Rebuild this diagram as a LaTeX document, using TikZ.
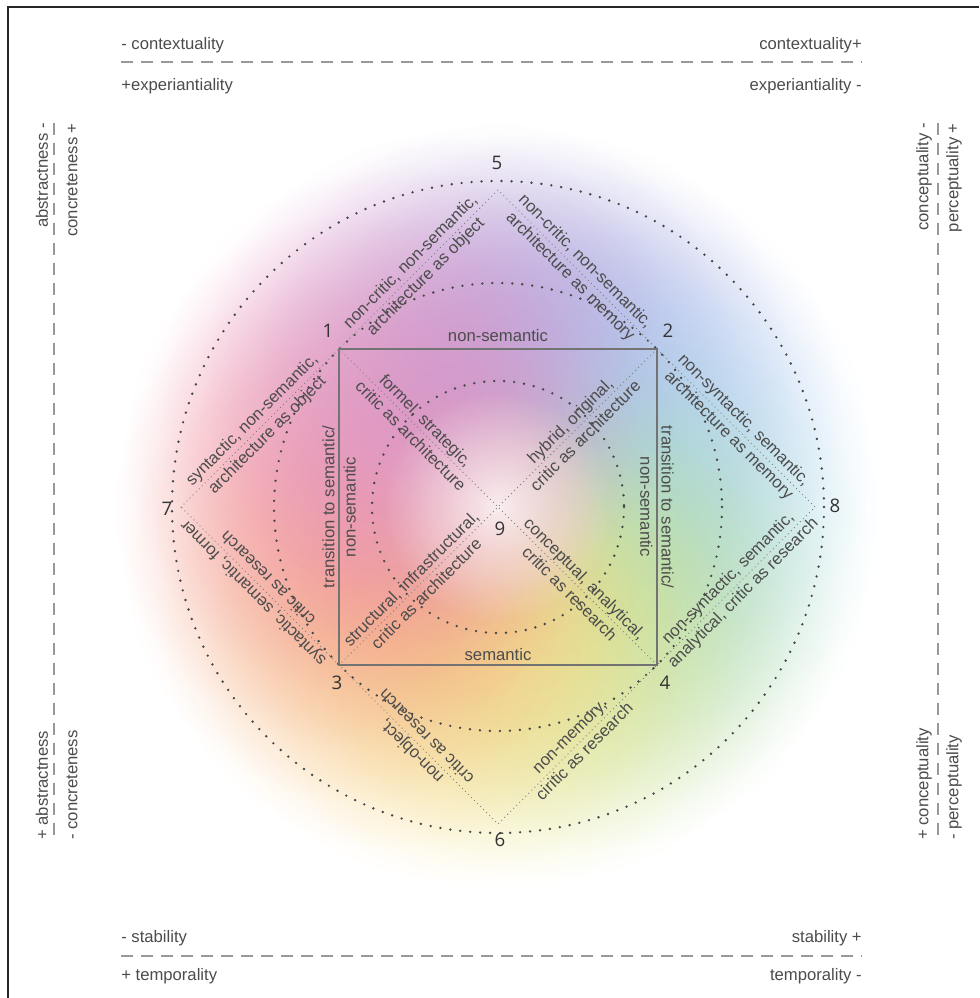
\documentclass[tikz,border=0pt]{standalone}
\usepackage{fontspec}
\setmainfont{Liberation Sans}
\newfontfamily\digitfont{Open Sans}
\usepackage{tikz}
\usetikzlibrary{fadings}
\usepackage{xcolor}

\definecolor{blobpurple}{HTML}{A597D6}
\definecolor{blobblue}{HTML}{AAB6EA}
\definecolor{blobcyan}{HTML}{AEE0F6}
\definecolor{blobgreen}{HTML}{A9D897}
\definecolor{blobyellow}{HTML}{F8EF8E}
\definecolor{bloborange}{HTML}{F9C487}
\definecolor{blobred}{HTML}{F3928A}
\definecolor{blobpink}{HTML}{F098CA}
\definecolor{labelgray}{HTML}{4C4C4C}

\tikzfading[name=fuzzyblob, inner color=transparent!0, outer color=transparent!100]

\tikzset{
  axislabel/.style={text=labelgray, font=\fontsize{12.5}{14}\selectfont, inner sep=0pt},
  axisline/.style={draw=black!40, line width=1pt, dash pattern=on 9pt off 6pt},
  ringline/.style={draw=black!72, line width=2pt, line cap=round, dash pattern=on 0pt off 7.5pt},
  edgeline/.style={draw=black!50, line width=1pt, line cap=round, dash pattern=on 0pt off 3.2pt},
  edgelabel/.style={text=labelgray, font=\fontsize{12.5}{16}\selectfont, align=center, inner sep=0pt},
  sideline/.style={draw=black!55, line width=1.1pt},
  numlabel/.style={text=black!80, font=\digitfont\fontsize{14}{16}\selectfont, inner sep=0pt},
}

\begin{document}
\begin{tikzpicture}[x=0.75pt,y=-0.75pt]
\useasboundingbox (0,0) rectangle (979,998);

\coordinate (p9) at (498,507);
\coordinate (p1) at (339,349);
\coordinate (p2) at (657,349);
\coordinate (p3) at (339,665);
\coordinate (p4) at (657,665);
\coordinate (p5) at (498,190);
\coordinate (p6) at (498,824);
\coordinate (p7) at (181,507);
\coordinate (p8) at (815,507);

\foreach \ang/\col in {270/blobpurple,292.5/blobpurple!50!blobblue,315/blobblue,337.5/blobblue!50!blobcyan,
  0/blobcyan,22.5/blobcyan!50!blobgreen,45/blobgreen,67.5/blobgreen!50!blobyellow,
  90/blobyellow,112.5/blobyellow!50!bloborange,135/bloborange,157.5/bloborange!50!blobred,
  180/blobred,202.5/blobred!50!blobpink,225/blobpink,247.5/blobpink!50!blobpurple}
  \fill[\col, path fading=fuzzyblob, fill opacity=.6] (p9) ++(\ang:145) circle (240);
\fill[white, path fading=fuzzyblob, fill opacity=.8] (p9) circle (115);

\draw[ringline] (p9) circle (326);
\draw[ringline] (p9) circle (224);
\draw[ringline] (p9) circle (126);

\draw[edgeline] (p7) -- node[edgelabel, rotate=45] {syntactic, non-semantic,\\architecture as object} (p1)
  -- node[edgelabel, rotate=45] {non-critic, non-semantic,\\architecture as object} (p5)
  -- node[edgelabel, rotate=-45] {non-critic, non-semantic,\\architecture as memory} (p2)
  -- node[edgelabel, rotate=-45] {non-syntactic, semantic,\\architecture as memory} (p8)
  -- node[edgelabel, rotate=45] {non-syntactic, semantic,\\analytical, critic as research} (p4)
  -- node[edgelabel, rotate=45] {non-memory,\\ciritic as research} (p6)
  -- node[edgelabel, rotate=135] {non-object,\\critic as research} (p3)
  -- node[edgelabel, rotate=135] {syntactic, semantic, former\\critic as research} (p7);

\draw[edgeline] (p1) -- node[edgelabel, rotate=-45] {formel, strategic,\\critic as architecture} (p9)
  -- node[edgelabel, rotate=-45] {conceptual, analytical,\\critic as research} (p4);
\draw[edgeline] (p3) -- node[edgelabel, rotate=45] {structural, infrastructural,\\critic as architecture} (p9)
  -- node[edgelabel, rotate=45] {hybrid, original,\\critic as architecture} (p2);

\draw[sideline] (p1) -- node[edgelabel, above=5pt] {non-semantic} (p2)
  -- node[edgelabel, rotate=-90] {transition to semantic/\\non-semantic} (p4)
  -- node[edgelabel, above=3pt] {semantic} (p3)
  -- node[edgelabel, rotate=90] {transition to semantic/\\non-semantic} (p1);

\node[numlabel] (n1) at (328,331) {1};
\node[numlabel] (n2) at (668,331) {2};
\node[numlabel] (n3) at (337,683) {3};
\node[numlabel] (n4) at (665,683) {4};
\node[numlabel] (n5) at (497,163) {5};
\node[numlabel] (n6) at (500,840) {6};
\node[numlabel] (n7) at (167,509) {7};
\node[numlabel] (n8) at (835,506) {8};
\node[numlabel] (n9) at (500,529) {9};

\node[axislabel, anchor=base west] (ctxminus) at (121,50) {- contextuality};
\node[axislabel, anchor=base east] (ctxplus) at (862,50) {contextuality+};
\node[axislabel, anchor=base west] (expplus) at (121,91) {+experiantiality};
\node[axislabel, anchor=base east] (expminus) at (862,91) {experiantiality -};
\coordinate (topdashL) at (121,62);
\coordinate (topdashR) at (862,62);
\draw[axisline] (topdashL) -- (topdashR);

\node[axislabel, anchor=base west] (stabminus) at (121,942) {- stability};
\node[axislabel, anchor=base east] (stabplus) at (862,942) {stability +};
\node[axislabel, anchor=base west] (tempplus) at (121,980) {+ temporality};
\node[axislabel, anchor=base east] (tempminus) at (862,980) {temporality -};
\coordinate (botdashL) at (121,956);
\coordinate (botdashR) at (862,956);
\draw[axisline] (botdashL) -- (botdashR);

\node[axislabel, rotate=90, anchor=east] (absminus) at (42,123) {abstractness -};
\node[axislabel, rotate=90, anchor=west] (absplus) at (42,840) {+ abstractness};
\node[axislabel, rotate=90, anchor=east] (conplus) at (72,123) {concreteness +};
\node[axislabel, rotate=90, anchor=west] (conminus) at (72,840) {- concreteness};
\coordinate (leftdashT) at (54,123);
\coordinate (leftdashB) at (54,840);
\draw[axisline] (leftdashT) -- (leftdashB);

\node[axislabel, rotate=90, anchor=east] (cptminus) at (924,123) {conceptuality -};
\node[axislabel, rotate=90, anchor=west] (cptplus) at (924,840) {+ conceptuality};
\node[axislabel, rotate=90, anchor=east] (prcplus) at (954,123) {perceptuality +};
\node[axislabel, rotate=90, anchor=west] (prcminus) at (954,840) {- perceptuality};
\coordinate (rightdashT) at (938,123);
\coordinate (rightdashB) at (938,840);
\draw[axisline] (rightdashT) -- (rightdashB);

\coordinate (frameBL) at (8,998);
\coordinate (frameTL) at (8,7);
\coordinate (frameTR) at (979,7);
\draw[black!85, line width=1.5pt] (frameBL) -- (frameTL) -- (frameTR);
\end{tikzpicture}
\end{document}
